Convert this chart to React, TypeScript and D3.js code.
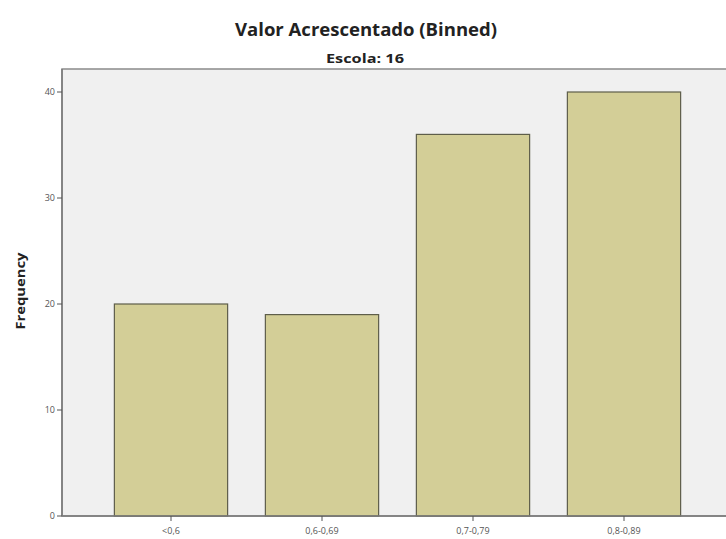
import React from "react";
import * as d3 from "d3";

const categories = ["<0,6", "0,6-0,69", "0,7-0,79", "0,8-0,89"];
const frequencies = [20, 19, 36, 40];
const yTicks = [0, 10, 20, 30, 40];
const title = "Valor Acrescentado (Binned)";
const subtitle = "Escola: 16";
const yLabel = "Frequency";

export default function App() {
  const W = 726, H = 539;
  const plotLeft = 62, plotTop = 69, plotBottom = 516, plotRight = 740;
  const x = d3.scaleBand<string>().domain(categories).range([95.5, 699.5]).paddingInner(0.25).paddingOuter(0.125);
  const y = d3.scaleLinear().domain([0, 40]).range([plotBottom, 92]);
  const font = "'Open Sans', 'DejaVu Sans', sans-serif";
  return (
    <svg width={W} height={H} style={{ position: "absolute", left: 0, top: 0, background: "#fff" }}>
      <rect x={plotLeft} y={plotTop} width={plotRight - plotLeft} height={plotBottom - plotTop} fill="#f0f0f0" stroke="#8a8a8a" strokeWidth={1.5} />
      {categories.map((c, i) => (
        <rect key={c} x={x(c)} y={y(frequencies[i])} width={x.bandwidth()} height={plotBottom - y(frequencies[i])}
          fill="#d3ce97" stroke="#5e5e4a" strokeWidth={1.2} />
      ))}
      <line x1={plotLeft} x2={plotLeft} y1={plotTop} y2={plotBottom} stroke="#7a7a7a" strokeWidth={1.5} />
      <line x1={plotLeft} x2={W} y1={plotBottom} y2={plotBottom} stroke="#7a7a7a" strokeWidth={1.5} />
      {yTicks.map(t => (
        <g key={t}>
          <line x1={plotLeft - 5} x2={plotLeft} y1={y(t)} y2={y(t)} stroke="#555" strokeWidth={1} />
          <text x={plotLeft - 7} y={y(t)} dy="0.35em" textAnchor="end" fontSize={9} fill="#555" fontFamily={font}>{t}</text>
        </g>
      ))}
      {categories.map(c => (
        <g key={c}>
          <line x1={x(c)! + x.bandwidth() / 2} x2={x(c)! + x.bandwidth() / 2} y1={plotBottom} y2={plotBottom + 5} stroke="#555" strokeWidth={1} />
          <text x={x(c)! + x.bandwidth() / 2} y={plotBottom + 18} textAnchor="middle" fontSize={9} fill="#555" fontFamily={font}>{c}</text>
        </g>
      ))}
      <text x={366} y={36} textAnchor="middle" fontSize={18} fontWeight="bold" fill="#222" fontFamily={font}
        textLength={262} lengthAdjust="spacingAndGlyphs">{title}</text>
      <text x={365} y={63} textAnchor="middle" fontSize={12.5} fontWeight="bold" fill="#222" fontFamily={font}
        textLength={78} lengthAdjust="spacingAndGlyphs">{subtitle}</text>
      <text transform={`translate(25, ${291}) rotate(-90)`} textAnchor="middle" fontSize={13} fontWeight="bold" fill="#222" fontFamily={font}
        textLength={77} lengthAdjust="spacingAndGlyphs">{yLabel}</text>
    </svg>
  );
}
